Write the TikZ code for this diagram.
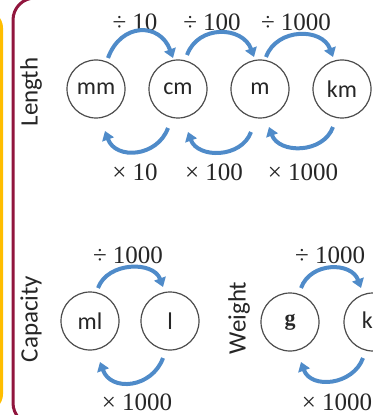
\documentclass[tikz,border=0pt]{standalone}
\usepackage{fontspec}
\setmainfont{Liberation Serif}
\newfontfamily\calfont{Carlito}
\usetikzlibrary{arrows.meta}
\definecolor{arrowblue}{RGB}{79,139,201}
\definecolor{framegold}{RGB}{255,190,0}
\definecolor{framewine}{RGB}{145,22,62}
\begin{document}
\begin{tikzpicture}[x=0.5pt,y=0.5pt,
  unit/.style={circle,draw=black!70,line width=0.6pt,minimum size=29pt,inner sep=0pt,text=black!85,font=\calfont\fontsize{12}{14}\selectfont},
  side/.style={rotate=90,text=black!85,font=\calfont\fontsize{12.5}{15}\selectfont},
  op/.style={text=black!85,font=\fontsize{12.5}{15}\selectfont},
  conv/.style={draw=arrowblue,line width=2pt,-{Triangle[length=4.5pt,width=6pt]}}]
\useasboundingbox (0,0) rectangle (372,-415);
\begin{scope}
\clip (0,0) rectangle (372,-415);
\draw[framegold,line width=1.5pt,rounded corners=8pt] (-40,-12) rectangle (1.5,-410);
\draw[framewine,line width=1.5pt,rounded corners=11pt] (13,2) rectangle (600,-425);
\end{scope}
% side labels
\node[side] (len) at (31,-92) {Length};
\node[side] (cap) at (31,-319) {Capacity};
\node[side] (wei) at (239,-318) {Weight};
% length units
\node[unit] (mm) at (96,-89) {mm};
\node[unit] (cm) at (178,-89) {cm};
\node[unit] (m) at (260,-89) {m};
\node[unit] (km) at (342,-89) {km};
% capacity units
\node[unit] (ml) at (90,-321) {ml};
\node[unit] (l) at (170,-321) {l};
% weight units
\node[unit,font=\bfseries\fontsize{11}{13}\selectfont] (g) at (290,-322) {g};
\node[unit] (kg) at (373,-322) {kg};
% operation labels
\node[op] (d1) at (135,-22) {÷ 10};
\node[op] (d2) at (212,-22) {÷ 100};
\node[op] (d3) at (296,-22) {÷ 1000};
\node[op] (t1) at (135,-172) {× 10};
\node[op] (t2) at (214,-172) {× 100};
\node[op] (t3) at (303,-172) {× 1000};
\node[op] (d4) at (128,-255) {÷ 1000};
\node[op] (t4) at (137,-402) {× 1000};
\node[op] (d5) at (330,-255) {÷ 1000};
\node[op] (t5) at (337,-402) {× 1000};
% length arrows
\draw[conv] ([shift={(12,31)}]mm.center) to[out=70,in=110,looseness=1.5] ([shift={(-5,31)}]cm.center);
\draw[conv] ([shift={(9,34)}]cm.center) to[out=70,in=110,looseness=1.25] ([shift={(-6,32)}]m.center);
\draw[conv] ([shift={(6,32)}]m.center) to[out=70,in=110,looseness=1.2] ([shift={(-9,32)}]km.center);
\draw[conv] ([shift={(-10,-39)}]cm.center) to[out=250,in=290,looseness=1.26] ([shift={(9,-42)}]mm.center);
\draw[conv] ([shift={(-9,-43)}]m.center) to[out=250,in=290,looseness=1.15] ([shift={(10,-43)}]cm.center);
\draw[conv] ([shift={(-9,-38)}]km.center) to[out=250,in=290,looseness=1.15] ([shift={(9,-38)}]m.center);
% capacity arrows
\draw[conv] ([shift={(8,33)}]ml.center) to[out=70,in=110,looseness=1.1] ([shift={(-7,34)}]l.center);
\draw[conv] ([shift={(-7,-37)}]l.center) to[out=250,in=290,looseness=1.3] ([shift={(10,-41)}]ml.center);
% weight arrows
\draw[conv] ([shift={(11,34)}]g.center) to[out=70,in=110,looseness=1.2] ([shift={(-12,34)}]kg.center);
\draw[conv] ([shift={(-10,-36)}]kg.center) to[out=250,in=290,looseness=1.2] ([shift={(11,-40)}]g.center);
\end{tikzpicture}
\end{document}
